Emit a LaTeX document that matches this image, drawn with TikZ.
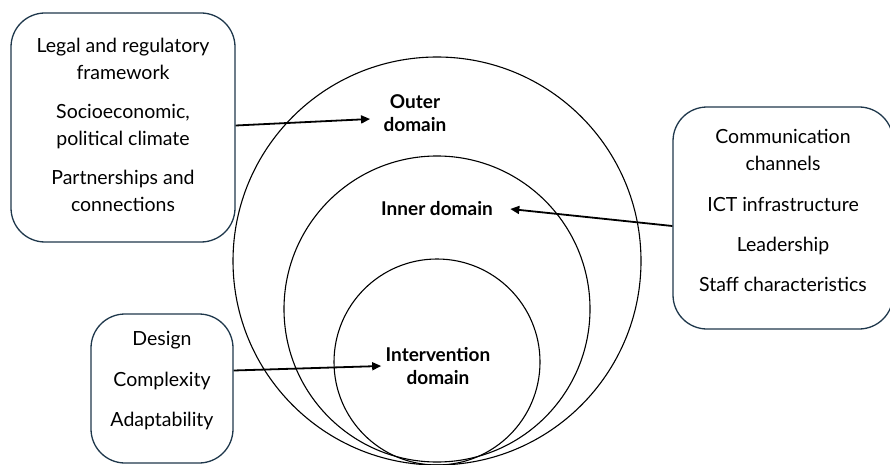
\documentclass[tikz,border=0pt]{standalone}
\usepackage{fontspec}
\setmainfont{Lato}
\usetikzlibrary{arrows.meta}
\definecolor{boxline}{RGB}{30, 55, 75}

\begin{document}
\begin{tikzpicture}[x=1pt, y=-1pt, font=\fontsize{19.5}{27}\selectfont,
  factors/.style={draw=boxline, line width=1.3pt, rounded corners=34pt, inner sep=0pt},
  items/.style={align=center, inner sep=2pt},
  ring/.style={draw, circle, line width=1.1pt, inner sep=0pt},
  domtext/.style={font=\fontsize{19}{22.5}\selectfont\bfseries, align=center},
  pointer/.style={line width=1.8pt, -{Triangle[length=9pt, width=8pt]}}]
  \useasboundingbox (0, 0) rectangle (890, 465);

  % nested domains, all touching at the bottom
  \node[ring, minimum size=408pt] (outer) at (437, 261) {};
  \node[ring, minimum size=306pt] (inner) at (437, 309) {};
  \node[ring, minimum size=206pt] (interv) at (437, 362) {};

  \node[domtext] (outertext) at (415, 113) {Outer\\domain};
  \node[domtext] (innertext) at (437, 209) {Inner domain};
  \node[domtext] (intervtext) at (438, 366) {Intervention\\domain};

  % factor boxes
  \node[factors, minimum width=224pt, minimum height=229pt] (outerbox) at (123, 127.5) {};
  \node[items] (outerlist) at (123, 124.5)
    {Legal and regulatory\\framework\\[12pt]Socioeconomic,\\political climate\\[12pt]Partnerships and\\connections};
  \node[factors, minimum width=220pt, minimum height=222pt] (innerbox) at (783, 218) {};
  \node[items] (innerlist) at (783, 210)
    {Communication\\channels\\[14pt]ICT infrastructure\\[13pt]Leadership\\[13pt]Staff characteristics};
  \node[factors, minimum width=142pt, minimum height=149pt] (intervbox) at (162, 388.5) {};
  \node[items] (intervlist) at (162, 381)
    {Design\\[14pt]Complexity\\[13pt]Adaptability};

  \draw[pointer] ([yshift=2pt]outerbox.east) -- ([xshift=-10pt, yshift=-6pt]outertext.west);
  \draw[pointer] ([yshift=-8pt]innerbox.west) -- ([xshift=14pt]innertext.east);
  \draw[pointer] ([yshift=18pt]intervbox.east) -- ([xshift=-1pt]intervtext.west);
\end{tikzpicture}
\end{document}
